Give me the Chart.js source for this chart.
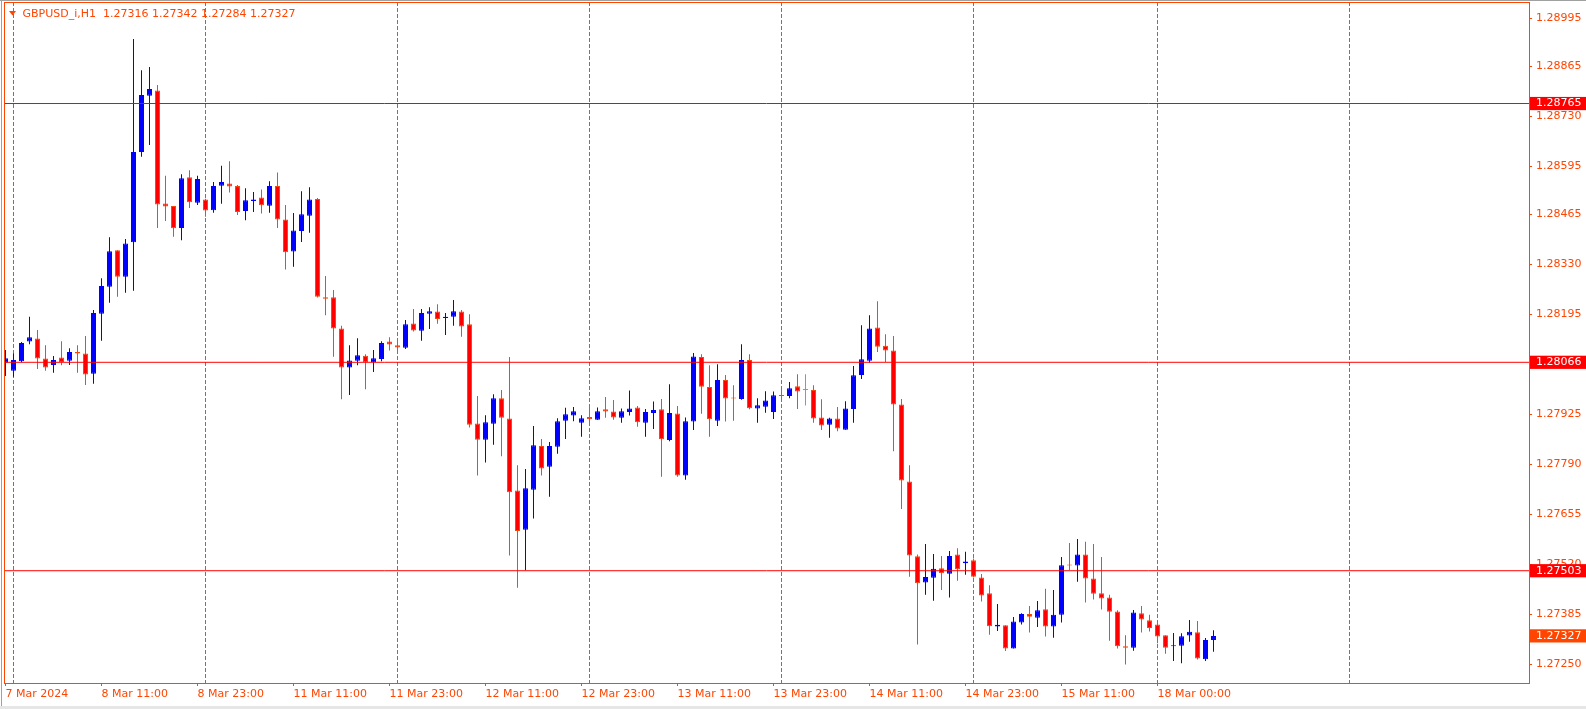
<!DOCTYPE html>
<html>
<head>
<meta charset="utf-8">
<script src="https://cdn.jsdelivr.net/npm/chart.js@4.4.1/dist/chart.umd.min.js"></script>
<style>
  html, body { margin: 0; padding: 0; background: #fff; overflow: hidden; }
  canvas { display: block; }
</style>
</head>
<body>
<canvas id="chart" width="1586" height="709"></canvas>
<script>
// GBPUSD_i H1 bars, one per hour, first bar = 7 Mar 23:00
const opens = [
  1.28065,1.28043,1.28069,1.28122,1.28130,1.28076,1.28059,1.28079,1.28070,1.28094,1.28090,1.28035,
  1.28197,1.28270,1.28369,1.28297,1.28390,1.28634,1.28786,1.28800,1.28495,1.28488,1.28429,1.28566,
  1.28497,1.28506,1.28477,1.28543,1.28549,1.28542,1.28475,1.28502,1.28511,1.28489,1.28542,1.28452,
  1.28365,1.28421,1.28462,1.28507,1.28242,1.28242,1.28157,1.28052,1.28070,1.28084,1.28066,1.28075,
  1.28122,1.28112,1.28105,1.28171,1.28151,1.28197,1.28203,1.28186,1.28189,1.28203,1.28169,1.27901,
  1.27857,1.27900,1.27969,1.27914,1.27720,1.27614,1.27722,1.27840,1.27784,1.27838,1.27908,1.27922,
  1.27903,1.27918,1.27911,1.27939,1.27933,1.27916,1.27932,1.27944,1.27903,1.27929,1.27939,1.27856,
  1.27928,1.27760,1.27906,1.28080,1.27999,1.27908,1.28018,1.27971,1.27967,1.28072,1.27941,1.27946,
  1.27932,1.27977,1.27975,1.28001,1.27991,1.27991,1.27917,1.27897,1.27914,1.27884,1.27940,1.28032,
  1.28070,1.28160,1.28111,1.28098,1.27952,1.27744,1.27542,1.27471,1.27484,1.27510,1.27495,1.27547,
  1.27523,1.27531,1.27485,1.27442,1.27352,1.27356,1.27293,1.27363,1.27386,1.27376,1.27399,1.27352,
  1.27384,1.27520,1.27517,1.27547,1.27482,1.27442,1.27431,1.27393,1.27299,1.27295,1.27388,1.27369,
  1.27358,1.27329,1.27299,1.27300,1.27328,1.27337,1.27264,1.27316
];
const highs = [
  1.28099,1.28090,1.28121,1.28189,1.28153,1.28112,1.28083,1.28123,1.28104,1.28112,1.28137,1.28207,
  1.28293,1.28404,1.28369,1.28399,1.28939,1.28855,1.28864,1.28815,1.28570,1.28488,1.28574,1.28585,
  1.28570,1.28508,1.28553,1.28597,1.28609,1.28545,1.28536,1.28526,1.28533,1.28555,1.28579,1.28491,
  1.28469,1.28528,1.28539,1.28510,1.28299,1.28261,1.28165,1.28112,1.28131,1.28088,1.28099,1.28123,
  1.28134,1.28122,1.28180,1.28210,1.28210,1.28215,1.28223,1.28199,1.28234,1.28207,1.28196,1.27975,
  1.27923,1.27980,1.27991,1.28080,1.27788,1.27778,1.27894,1.27859,1.27851,1.27915,1.27943,1.27945,
  1.27923,1.27948,1.27944,1.27972,1.27964,1.27941,1.27990,1.27948,1.27940,1.27960,1.27967,1.28007,
  1.27948,1.27917,1.28091,1.28088,1.28058,1.28061,1.28032,1.28004,1.28115,1.28088,1.27969,1.27988,
  1.27987,1.27995,1.28013,1.28034,1.28034,1.28004,1.27966,1.27916,1.27945,1.27961,1.28056,1.28166,
  1.28193,1.28231,1.28142,1.28137,1.27967,1.27788,1.27547,1.27575,1.27548,1.27543,1.27556,1.27564,
  1.27554,1.27536,1.27494,1.27464,1.27413,1.27356,1.27378,1.27388,1.27408,1.27421,1.27454,1.27451,
  1.27540,1.27578,1.27589,1.27581,1.27575,1.27540,1.27438,1.27396,1.27329,1.27397,1.27408,1.27384,
  1.27366,1.27329,1.27335,1.27334,1.27370,1.27367,1.27321,1.27342
];
const lows = [
  1.28029,1.28027,1.28066,1.28115,1.28048,1.28043,1.28038,1.28058,1.28059,1.28038,1.28005,1.28008,
  1.28124,1.28227,1.28243,1.28254,1.28259,1.28621,1.28653,1.28429,1.28448,1.28405,1.28396,1.28483,
  1.28491,1.28459,1.28470,1.28494,1.28525,1.28464,1.28450,1.28472,1.28468,1.28470,1.28429,1.28317,
  1.28324,1.28391,1.28416,1.28241,1.28193,1.28081,1.27966,1.27978,1.28058,1.27993,1.28040,1.28069,
  1.28098,1.28090,1.28102,1.28149,1.28124,1.28156,1.28170,1.28140,1.28165,1.28135,1.27890,1.27760,
  1.27795,1.27843,1.27812,1.27544,1.27457,1.27504,1.27644,1.27760,1.27703,1.27819,1.27859,1.27907,
  1.27865,1.27903,1.27910,1.27916,1.27911,1.27903,1.27922,1.27892,1.27865,1.27886,1.27757,1.27853,
  1.27757,1.27749,1.27883,1.27927,1.27865,1.27894,1.27906,1.27908,1.27965,1.27939,1.27903,1.27930,
  1.27913,1.27964,1.27969,1.27940,1.27949,1.27903,1.27883,1.27862,1.27880,1.27884,1.27903,1.28021,
  1.28065,1.28094,1.28067,1.27826,1.27670,1.27487,1.27304,1.27438,1.27422,1.27451,1.27431,1.27476,
  1.27492,1.27485,1.27420,1.27330,1.27340,1.27286,1.27293,1.27358,1.27336,1.27351,1.27325,1.27322,
  1.27363,1.27505,1.27473,1.27417,1.27425,1.27398,1.27314,1.27293,1.27250,1.27287,1.27336,1.27339,
  1.27307,1.27279,1.27259,1.27253,1.27311,1.27263,1.27259,1.27284
];
const closes = [
  1.28077,1.28072,1.28118,1.28134,1.28076,1.28052,1.28072,1.28067,1.28094,1.28090,1.28033,1.28199,
  1.28272,1.28366,1.28297,1.28387,1.28634,1.28788,1.28804,1.28492,1.28487,1.28428,1.28563,1.28498,
  1.28561,1.28476,1.28542,1.28553,1.28541,1.28472,1.28504,1.28506,1.28490,1.28542,1.28452,1.28363,
  1.28422,1.28466,1.28506,1.28243,1.28238,1.28157,1.28052,1.28071,1.28085,1.28066,1.28077,1.28118,
  1.28114,1.28106,1.28169,1.28152,1.28199,1.28204,1.28183,1.28189,1.28204,1.28163,1.27897,1.27857,
  1.27904,1.27969,1.27916,1.27715,1.27610,1.27726,1.27842,1.27779,1.27840,1.27907,1.27926,1.27934,
  1.27915,1.27912,1.27934,1.27933,1.27917,1.27934,1.27941,1.27904,1.27932,1.27937,1.27858,1.27929,
  1.27760,1.27907,1.28082,1.28000,1.27912,1.28018,1.27968,1.27968,1.28072,1.27942,1.27950,1.27963,
  1.27977,1.27975,1.27996,1.27987,1.27991,1.27914,1.27895,1.27914,1.27887,1.27941,1.28031,1.28074,
  1.28157,1.28108,1.28098,1.27952,1.27747,1.27544,1.27469,1.27486,1.27508,1.27496,1.27543,1.27507,
  1.27528,1.27487,1.27436,1.27353,1.27357,1.27293,1.27366,1.27386,1.27379,1.27396,1.27352,1.27384,
  1.27518,1.27517,1.27547,1.27482,1.27441,1.27428,1.27392,1.27299,1.27295,1.27390,1.27371,1.27348,
  1.27325,1.27295,1.27302,1.27326,1.27338,1.27266,1.27316,1.27327
];

// time axis labels (bar index -> text) and day separators (bar index)
const timeTickIdx = [0, 12, 24, 36, 48, 60, 72, 84, 96, 108, 120, 132, 144];
const timeTickLabels = ['7 Mar 2024', '8 Mar 11:00', '8 Mar 23:00', '11 Mar 11:00', '11 Mar 23:00',
  '12 Mar 11:00', '12 Mar 23:00', '13 Mar 11:00', '13 Mar 23:00', '14 Mar 11:00', '14 Mar 23:00',
  '15 Mar 11:00', '18 Mar 00:00'];
const separatorIdx = [1, 25, 49, 73, 97, 121, 144, 168];

// price axis
const priceTicks = [1.28995, 1.28865, 1.28730, 1.28595, 1.28465, 1.28330, 1.28195,
  1.27925, 1.27790, 1.27655, 1.27520, 1.27385, 1.27250];
const levels = [1.28765, 1.28066, 1.27503];   // horizontal lines
const bidPrice = 1.27327;

const symbol = 'GBPUSD_i', period = 'H1';

// geometry of the MT4 window
const ORANGE = '#ff4500';
const LEFT = 4, TOP = 2, RIGHT = 1529, BOTTOM = 683;
const PX_PER_PRICE = 37020, ANCHOR = 1.28066, ANCHOR_Y = 362.3;
const yMax = ANCHOR + (ANCHOR_Y - TOP) / PX_PER_PRICE;
const yMin = ANCHOR - (BOTTOM - ANCHOR_Y) / PX_PER_PRICE;
const BAR_STEP = 8, FIRST_X = 5.5;
const xMin = -(FIRST_X - LEFT) / BAR_STEP;
const xMax = xMin + (RIGHT - LEFT) / BAR_STEP;

const kind = opens.map((o, i) => closes[i] > o ? 'up' : (closes[i] < o ? 'down' : 'doji'));
const fillCol = { up: '#0000ff', down: '#ff0000', doji: '#00ff00' };
const lineCol = { up: '#0000ff', down: ORANGE, doji: '#00ff00' };

const bodies = opens.map((o, i) => ({ x: i, y: [Math.min(o, closes[i]), Math.max(o, closes[i])] }));
const wicks = highs.map((h, i) => ({ x: i, y: [lows[i], h] }));

const levelSets = levels.map(v => ({
  type: 'line',
  data: [{ x: xMin - 2, y: v }, { x: xMax + 2, y: v }],
  borderColor: '#ff0000',
  borderWidth: 1,
  pointRadius: 0,
  fill: false,
  order: 0
}));

const specialTicks = levels.concat([bidPrice]);
const isSpecial = v => specialTicks.indexOf(v) >= 0;

function noPad(scale) {
  scale.paddingTop = 0; scale.paddingBottom = 0;
  scale.paddingLeft = 0; scale.paddingRight = 0;
}

const framePlugin = {
  id: 'frame',
  beforeDraw(chart) {
    const c = chart.ctx;
    c.save();
    c.fillStyle = '#a0a0a0';
    c.fillRect(0, 0, 1586, 1);
    c.fillRect(1, 0, 1, 706);
    c.fillStyle = '#e6e6e6';
    c.fillRect(0, 706, 1586, 3);
    c.restore();
  },
  afterDatasetsDraw(chart) {
    const a = chart.chartArea, c = chart.ctx;
    c.save();
    c.strokeStyle = ORANGE;
    c.lineWidth = 1;
    c.strokeRect(a.left + 0.5, a.top + 0.5, a.right - a.left, a.bottom - a.top);
    c.restore();
  },
  afterDraw(chart) {
    const c = chart.ctx;
    const n = closes.length - 1;
    const text = symbol + ',' + period + '  ' +
      [opens[n], highs[n], lows[n], closes[n]].map(v => v.toFixed(5)).join(' ');
    c.save();
    c.fillStyle = ORANGE;
    c.beginPath();
    c.moveTo(9, 11); c.lineTo(16, 11); c.lineTo(12.5, 15.5);
    c.closePath();
    c.fill();
    c.font = '11px "DejaVu Sans"';
    c.textBaseline = 'middle';
    c.fillText(text, 22.5, 14.5);
    c.restore();
  }
};

Chart.defaults.font.family = '"DejaVu Sans"';
Chart.defaults.font.size = 11;

new Chart(document.getElementById('chart').getContext('2d'), {
  type: 'bar',
  data: {
    datasets: levelSets.concat([
      {
        data: bodies,
        grouped: false,
        barThickness: 5,
        maxBarThickness: 5,
        minBarLength: 1,
        borderWidth: 1,
        borderSkipped: false,
        inflateAmount: 0,
        backgroundColor: kind.map(k => fillCol[k]),
        borderColor: kind.map(k => lineCol[k]),
        clip: 0,
        order: 1
      },
      {
        data: wicks,
        grouped: false,
        barThickness: 1,
        maxBarThickness: 1,
        borderWidth: 0,
        inflateAmount: 0,
        backgroundColor: kind.map(k => lineCol[k]),
        clip: 0,
        order: 2
      }
    ])
  },
  options: {
    responsive: false,
    animation: false,
    events: [],
    layout: { autoPadding: false, padding: { left: LEFT, top: TOP, right: 0, bottom: 0 } },
    plugins: { legend: { display: false }, tooltip: { enabled: false } },
    scales: {
      x: {
        type: 'linear',
        position: 'bottom',
        min: xMin,
        max: xMax,
        offset: false,
        grid: { offset: false, drawOnChartArea: false, drawTicks: true, tickLength: 3, tickColor: ORANGE },
        border: { display: false },
        ticks: {
          autoSkip: false,
          maxRotation: 0,
          minRotation: 0,
          align: 'start',
          padding: 2,
          color: ORANGE,
          callback: v => timeTickLabels[timeTickIdx.indexOf(v)]
        },
        afterBuildTicks: s => { s.ticks = timeTickIdx.map(v => ({ value: v })); },
        afterFit: s => { s.height = 709 - BOTTOM; noPad(s); }
      },
      xsep: {
        type: 'linear',
        axis: 'x',
        position: 'top',
        min: xMin,
        max: xMax,
        offset: false,
        grid: { offset: false, drawOnChartArea: true, drawTicks: false, color: ORANGE, lineWidth: 1 },
        border: { display: false, dash: [4, 2] },
        ticks: { display: false, autoSkip: false },
        afterBuildTicks: s => { s.ticks = separatorIdx.map(v => ({ value: v })); },
        afterFit: s => { s.height = 0; noPad(s); }
      },
      y: {
        type: 'linear',
        position: 'right',
        min: yMin,
        max: yMax,
        beginAtZero: false,
        grid: { drawOnChartArea: false, drawTicks: true, tickLength: 3, tickColor: ORANGE },
        border: { display: false },
        ticks: {
          autoSkip: false,
          padding: 4,
          color: c => isSpecial(c.tick.value) ? '#ffffff' : ORANGE,
          showLabelBackdrop: c => isSpecial(c.tick.value),
          backdropColor: c => c.tick.value === bidPrice ? ORANGE : '#ff0000',
          backdropPadding: { left: 6, right: 5, top: 0, bottom: 0 },
          callback: v => v.toFixed(5)
        },
        afterBuildTicks: s => { s.ticks = priceTicks.concat(specialTicks).map(v => ({ value: v })); },
        afterFit: s => { s.width = 1586 - RIGHT; noPad(s); }
      }
    }
  },
  plugins: [framePlugin]
});
</script>
</body>
</html>
